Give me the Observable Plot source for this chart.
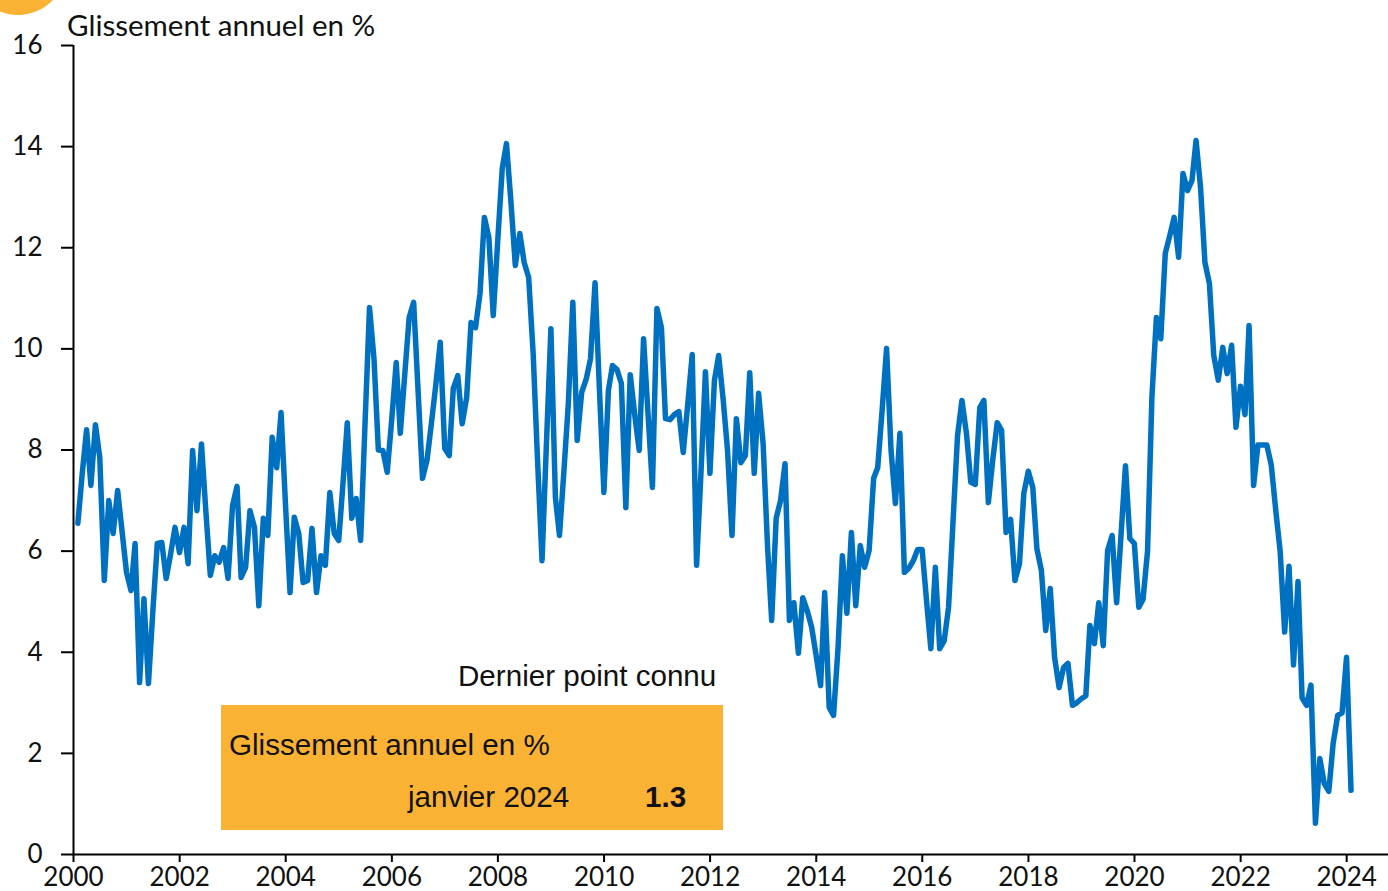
<!DOCTYPE html>
<html>
<head>
<meta charset="utf-8">
<script src="https://cdn.jsdelivr.net/npm/d3@7"></script>
<script src="https://cdn.jsdelivr.net/npm/@observablehq/plot@0.6"></script>
<style>
  html, body { margin: 0; padding: 0; background: #fff; }
  #wrap { position: relative; width: 1388px; height: 891px; overflow: hidden; }
  #wrap svg { position: absolute; left: 0; top: 0; }
  .ov { position: absolute; white-space: nowrap; line-height: 1; }
  #title { left: 67px; top: 7px; font: 29.5px Lato, sans-serif; color: #111; }
  #corner { left: -30px; top: -81px; width: 96px; height: 96px; border-radius: 50%; background: #F9B233; }
  #box { left: 221px; top: 705px; width: 502px; height: 125px; background: #F9B233; }
  .an { font-family: "Liberation Sans", Arial, sans-serif; font-size: 29.6px; color: #111; }
</style>
</head>
<body>
<div id="wrap">
  <div id="chart"></div>
  <div class="ov" id="corner"></div>
  <div class="ov" id="title">Glissement annuel en %</div>
  <div class="ov" id="box"></div>
  <div class="ov an" style="left:458px; top:661px;">Dernier point connu</div>
  <div class="ov an" style="left:229px; top:730px;">Glissement annuel en %</div>
  <div class="ov an" style="left:408px; top:782px;">janvier 2024</div>
  <div class="ov an" style="left:645px; top:782px; font-weight:bold;">1.3</div>
</div>
<script>
// Monthly year-on-year change (%), January 2000 to January 2024
const startYear = 2000;
const startMonth = 0; // January
const values = [
  // 2000
  6.55, 7.5, 8.4, 7.3, 8.5, 7.85, 5.42, 7.0, 6.35, 7.2, 6.4, 5.58,
  // 2001
  5.22, 6.15, 3.4, 5.06, 3.38, 4.8, 6.15, 6.17, 5.46, 5.95, 6.47, 5.97,
  // 2002
  6.47, 5.75, 7.99, 6.8, 8.12, 6.8, 5.52, 5.91, 5.78, 6.07, 5.46, 6.9,
  // 2003
  7.28, 5.48, 5.68, 6.8, 6.47, 4.92, 6.65, 6.31, 8.25, 7.65, 8.74, 6.9,
  // 2004
  5.18, 6.67, 6.35, 5.38, 5.42, 6.45, 5.18, 5.91, 5.72, 7.16, 6.35, 6.21,
  // 2005
  7.4, 8.54, 6.65, 7.04, 6.21, 8.5, 10.82, 9.8, 8.0, 7.99, 7.56, 8.6,
  // 2006
  9.73, 8.33, 9.5, 10.62, 10.92, 9.2, 7.44, 7.8, 8.52, 9.3, 10.13, 8.03,
  // 2007
  7.89, 9.22, 9.47, 8.52, 9.04, 10.52, 10.42, 11.1, 12.6, 12.2, 10.66, 12.14,
  // 2008
  13.57, 14.06, 12.9, 11.65, 12.28, 11.71, 11.41, 9.9, 7.8, 5.81, 8.1, 10.4,
  // 2009
  7.06, 6.31, 7.6, 8.92, 10.92, 8.19, 9.14, 9.4, 9.81, 11.31, 9.2, 7.16,
  // 2010
  9.18, 9.67, 9.59, 9.32, 6.86, 9.49, 8.7, 7.99, 10.2, 8.7, 7.26, 10.8,
  // 2011
  10.42, 8.62, 8.6, 8.7, 8.76, 7.95, 8.9, 9.89, 5.72, 7.6, 9.55, 7.54,
  // 2012
  9.38, 9.87, 9.0, 8.0, 6.31, 8.62, 7.75, 7.89, 9.53, 7.54, 9.12, 8.13,
  // 2013
  6.07, 4.63, 6.65, 7.0, 7.73, 4.63, 4.98, 3.98, 5.08, 4.82, 4.5, 3.94,
  // 2014
  3.34, 5.18, 2.91, 2.75, 4.09, 5.91, 4.77, 6.37, 4.92, 6.11, 5.68, 6.01,
  // 2015
  7.44, 7.65, 8.8, 10.01, 7.99, 6.94, 8.33, 5.58, 5.66, 5.81, 6.03, 6.03,
  // 2016
  5.0, 4.07, 5.68, 4.07, 4.23, 4.89, 6.6, 8.29, 8.98, 8.33, 7.36, 7.32,
  // 2017
  8.84, 8.98, 6.96, 7.8, 8.54, 8.39, 6.37, 6.63, 5.42, 5.75, 7.14, 7.58,
  // 2018
  7.26, 6.05, 5.62, 4.43, 5.26, 3.9, 3.3, 3.7, 3.78, 2.95, 3.0, 3.08,
  // 2019
  3.14, 4.53, 4.17, 4.98, 4.13, 6.01, 6.31, 4.98, 6.3, 7.69, 6.25, 6.15,
  // 2020
  4.89, 5.05, 6.0, 9.04, 10.62, 10.2, 11.89, 12.24, 12.6, 11.81, 13.47, 13.13,
  // 2021
  13.33, 14.12, 13.19, 11.71, 11.29, 9.87, 9.38, 10.03, 9.51, 10.07, 8.45, 9.26,
  // 2022
  8.7, 10.46, 7.3, 8.1, 8.1, 8.1, 7.7, 6.8, 6.0, 4.4, 5.7, 3.75,
  // 2023
  5.4, 3.1, 2.95, 3.35, 0.62, 1.9, 1.4, 1.25, 2.2, 2.75, 2.8, 3.9,
  // 2024
  1.27
];
const yTicks = [0, 2, 4, 6, 8, 10, 12, 14, 16];
const xTickYears = [2000, 2002, 2004, 2006, 2008, 2010, 2012, 2014, 2016, 2018, 2020, 2022, 2024];

// observation dated at end of its month
const data = values.map((v, i) => ({
  date: new Date(Date.UTC(startYear, startMonth + i + 1, 0)),
  value: v
}));

const xStart = new Date(Date.UTC(2000, 0, 1));
const xEnd = new Date(Date.UTC(2024, 9, 15));
const lineColor = "#0070C0";

const chart = Plot.plot({
  width: 1388,
  height: 891,
  marginLeft: 73,
  marginRight: 0,
  marginTop: 45,
  marginBottom: 37,
  style: { fontFamily: "Lato, sans-serif", fontSize: "26px", color: "#111", background: "transparent" },
  x: { type: "utc", domain: [xStart, xEnd] },
  y: { domain: [0, 16] },
  marks: [
    Plot.axisY({ ticks: yTicks, tickSize: 12, tickPadding: 19, label: null, tickFormat: d => String(d), stroke: "#000", strokeWidth: 2 }),
    Plot.axisX({ ticks: xTickYears.map(y => new Date(Date.UTC(y, 0, 1))), tickFormat: d => String(d.getUTCFullYear()), tickSize: 8, tickPadding: 5, label: null, stroke: "#000", strokeWidth: 2 }),
    Plot.ruleY([0], { stroke: "#000", strokeWidth: 2 }),
    Plot.ruleX([xStart], { y1: 0, y2: 16, stroke: "#000", strokeWidth: 2 }),
    Plot.line(data, { x: "date", y: "value", stroke: lineColor, strokeWidth: 5.5, strokeLinejoin: "round", strokeLinecap: "round" })
  ]
});
document.getElementById("chart").appendChild(chart);
</script>
</body>
</html>
